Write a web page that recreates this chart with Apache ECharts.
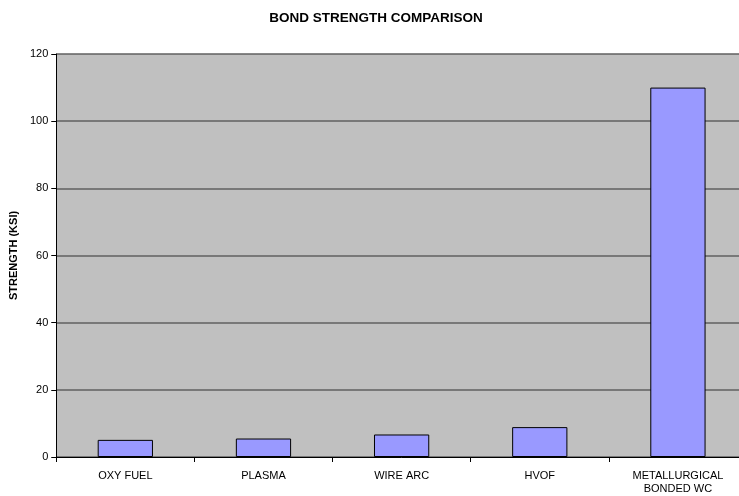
<!DOCTYPE html>
<html>
<head>
<meta charset="utf-8">
<script src="https://cdn.jsdelivr.net/npm/echarts@6/dist/echarts.min.js"></script>
<style>
  html, body { margin: 0; padding: 0; background: #fff; width: 739px; height: 496px; overflow: hidden; }
  #main { width: 752px; height: 496px; }
</style>
</head>
<body>
<div id="main"></div>
<script>
var categories = ['OXY FUEL', 'PLASMA', 'WIRE ARC', 'HVOF', 'METALLURGICAL\nBONDED WC'];
var strength = [5.1, 5.5, 6.7, 8.9, 110];
var yTicks = [0, 20, 40, 60, 80, 100, 120];

var font = 'Liberation Sans, Arial, sans-serif';
var chart = echarts.init(document.getElementById('main'));

var option = {
    backgroundColor: '#fff',
    animation: false,
    title: {
        text: 'BOND STRENGTH COMPARISON',
        left: 371,
        top: 6,
        textAlign: 'center',
        textStyle: { fontFamily: font, fontSize: 13.5, fontWeight: 'bold', color: '#000' }
    },
    grid: { left: 54, right: 5, top: 54, bottom: 38, backgroundColor: '#c0c0c0', show: true, borderWidth: 0 },
    xAxis: {
        type: 'category',
        data: categories,
        axisLine: { lineStyle: { color: '#000', width: 1 } },
        axisTick: { show: true, length: 5, lineStyle: { color: '#000' } },
        axisLabel: { fontFamily: font, fontSize: 11, color: '#000', margin: 12, lineHeight: 13.5, interval: 0 }
    },
    yAxis: {
        type: 'value',
        min: yTicks[0],
        max: yTicks[yTicks.length - 1],
        interval: 20,
        name: 'STRENGTH (KSI)',
        nameLocation: 'middle',
        nameGap: 32,
        nameRotate: 90,
        nameTextStyle: { fontFamily: font, fontSize: 11, fontWeight: 'bold', color: '#000' },
        axisLine: { show: true, lineStyle: { color: '#000', width: 1 } },
        axisTick: { show: true, length: 5, lineStyle: { color: '#000' } },
        axisLabel: { fontFamily: font, fontSize: 11, color: '#000', margin: 8 },
        splitLine: { lineStyle: { color: '#606060', width: 1.5 } }
    },
    series: [{
        type: 'bar',
        data: strength,
        barWidth: '40%',
        itemStyle: { color: '#9999ff', borderColor: '#000', borderWidth: 1 }
    }]
};

chart.setOption(option);
</script>
</body>
</html>
